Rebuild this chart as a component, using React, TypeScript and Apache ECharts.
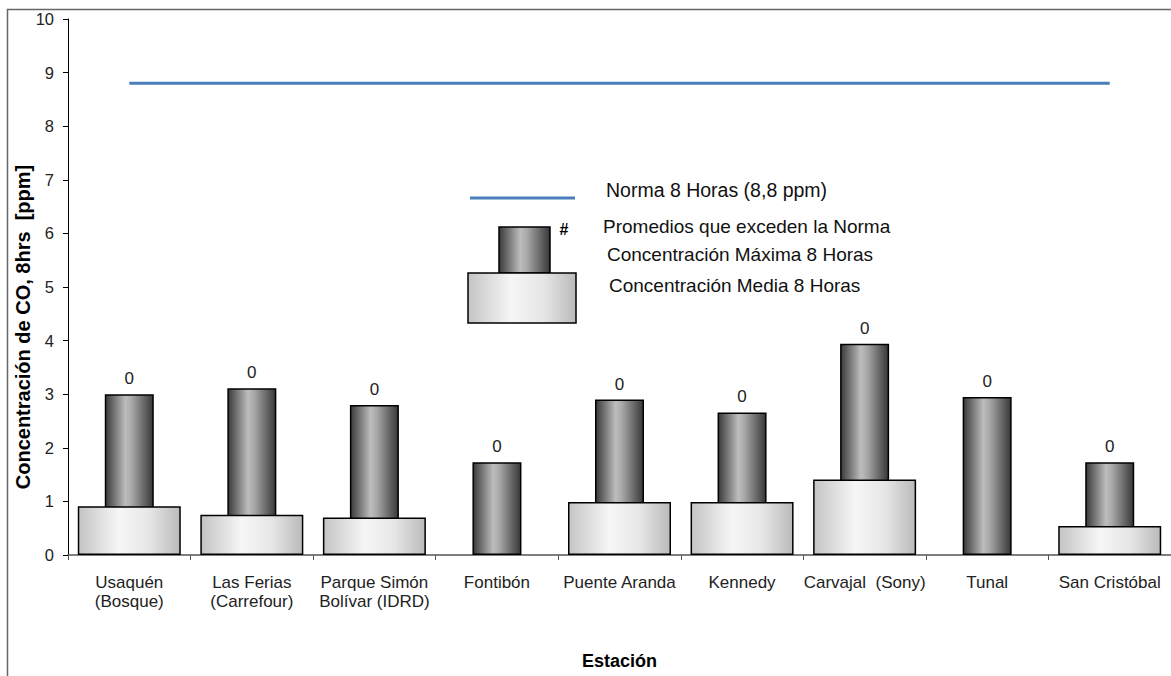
import React, { useEffect, useRef } from "react";
import * as echarts from "echarts";

const categories = [
  "Usaquén\n(Bosque)",
  "Las Ferias\n(Carrefour)",
  "Parque Simón\nBolívar (IDRD)",
  "Fontibón",
  "Puente Aranda",
  "Kennedy",
  "Carvajal  (Sony)",
  "Tunal",
  "San Cristóbal",
];
const maxValues = [3.0, 3.11, 2.8, 1.73, 2.9, 2.66, 3.94, 2.95, 1.73];
const meanValues: (number | null)[] = [0.91, 0.75, 0.7, null, 0.99, 0.99, 1.41, null, 0.54];
const exceedCounts = [0, 0, 0, 0, 0, 0, 0, 0, 0];
const normValue = 8.8;
const normValues = categories.map(() => normValue);
const yTicks = { min: 0, max: 10, interval: 1 };
const legendTexts = [
  "Norma 8 Horas (8,8 ppm)",
  "Promedios que exceden la Norma",
  "Concentración Máxima 8 Horas",
  "Concentración Media 8 Horas",
];
const yTitle = "Concentración de CO, 8hrs  [ppm]";
const xTitle = "Estación";

const FONT = "'Liberation Sans', Arial, sans-serif";

const darkGrad = () =>
  new echarts.graphic.LinearGradient(0, 0, 1, 0, [
    { offset: 0, color: "#3a3a3a" },
    { offset: 0.42, color: "#bdbdbd" },
    { offset: 0.55, color: "#a8a8a8" },
    { offset: 1, color: "#383838" },
  ]);
const lightGrad = () =>
  new echarts.graphic.LinearGradient(0, 0, 1, 0, [
    { offset: 0, color: "#c4c4c4" },
    { offset: 0.4, color: "#f6f6f6" },
    { offset: 0.7, color: "#e6e6e6" },
    { offset: 1, color: "#bababa" },
  ]);

export default function App() {
  const ref = useRef<HTMLDivElement>(null);
  useEffect(() => {
    if (!ref.current) return;
    const chart = echarts.init(ref.current, null, { renderer: "svg" });
    chart.setOption({
      animation: false,
      textStyle: { fontFamily: FONT },
      grid: { left: 68, width: 1105, top: 19, height: 536, containLabel: false },
      xAxis: [
        {
          type: "category",
          data: categories,
          name: xTitle,
          nameLocation: "middle",
          nameGap: 97,
          nameTextStyle: { fontFamily: FONT, fontSize: 18, fontWeight: "bold", color: "#000" },
          axisLine: { lineStyle: { color: "#555", width: 1.5 } },
          axisTick: { show: true, length: 5, lineStyle: { color: "#555" } },
          axisLabel: {
            interval: 0,
            margin: 18,
            fontFamily: FONT,
            fontSize: 17,
            lineHeight: 19,
            color: "#222",
          },
        },
        {
          type: "category",
          data: categories,
          show: false,
        },
      ],
      yAxis: {
        type: "value",
        min: yTicks.min,
        max: yTicks.max,
        interval: yTicks.interval,
        axisLine: { show: true, lineStyle: { color: "#000", width: 1 } },
        axisTick: { show: true, length: 5, lineStyle: { color: "#000" } },
        axisLabel: { fontFamily: FONT, fontSize: 16.5, color: "#222", margin: 14 },
        splitLine: { show: false },
      },
      series: [
        {
          name: legendTexts[2],
          type: "bar",
          xAxisIndex: 0,
          data: maxValues,
          barWidth: 49,
          z: 2,
          itemStyle: { color: darkGrad(), borderColor: "#000", borderWidth: 1.5 },
          label: {
            show: true,
            position: "top",
            distance: 7,
            fontFamily: FONT,
            fontSize: 17,
            color: "#222",
            formatter: (p: any) => String(exceedCounts[p.dataIndex]),
          },
        },
        {
          name: legendTexts[3],
          type: "bar",
          xAxisIndex: 1,
          data: meanValues,
          barWidth: 103,
          z: 3,
          itemStyle: { color: lightGrad(), borderColor: "#000", borderWidth: 1.5 },
        },
        {
          name: legendTexts[0],
          type: "line",
          xAxisIndex: 0,
          data: normValues,
          symbol: "none",
          z: 4,
          lineStyle: { color: "#4a7ebb", width: 3 },
        },
      ],
      graphic: [
        {
          type: "rect",
          shape: { x: 7.5, y: 9.5, width: 1200, height: 700 },
          style: { fill: "none", stroke: "#666", lineWidth: 1.5 },
          silent: true,
        },
        {
          type: "text",
          x: 23,
          y: 327,
          rotation: Math.PI / 2,
          style: {
            text: yTitle,
            font: `bold 20px ${FONT}`,
            fill: "#000",
            textAlign: "center",
            textVerticalAlign: "middle",
          },
        },
        {
          type: "line",
          shape: { x1: 470, y1: 198, x2: 575, y2: 198 },
          style: { stroke: "#4a7ebb", lineWidth: 3 },
        },
        {
          type: "rect",
          shape: { x: 499, y: 227, width: 51, height: 46 },
          style: { fill: darkGrad(), stroke: "#000", lineWidth: 1.5 },
        },
        {
          type: "rect",
          shape: { x: 468, y: 273, width: 108, height: 50 },
          style: { fill: lightGrad(), stroke: "#000", lineWidth: 1.5 },
        },
        {
          type: "text",
          x: 564,
          y: 229,
          style: { text: "#", font: `bold 16px ${FONT}`, fill: "#000", textAlign: "center", textVerticalAlign: "middle" },
        },
        {
          type: "text",
          x: 606,
          y: 190,
          style: { text: legendTexts[0], font: `19.5px ${FONT}`, fill: "#111", textVerticalAlign: "middle" },
        },
        {
          type: "text",
          x: 603,
          y: 226,
          style: { text: legendTexts[1], font: `19px ${FONT}`, fill: "#111", textVerticalAlign: "middle" },
        },
        {
          type: "text",
          x: 607,
          y: 254,
          style: { text: legendTexts[2], font: `19px ${FONT}`, fill: "#111", textVerticalAlign: "middle" },
        },
        {
          type: "text",
          x: 609,
          y: 285,
          style: { text: legendTexts[3], font: `19px ${FONT}`, fill: "#111", textVerticalAlign: "middle" },
        },
      ],
    });
    return () => chart.dispose();
  }, []);
  return (
    <div
      ref={ref}
      style={{ position: "fixed", left: 0, top: 0, width: 1171, height: 676, background: "#fff" }}
    />
  );
}
